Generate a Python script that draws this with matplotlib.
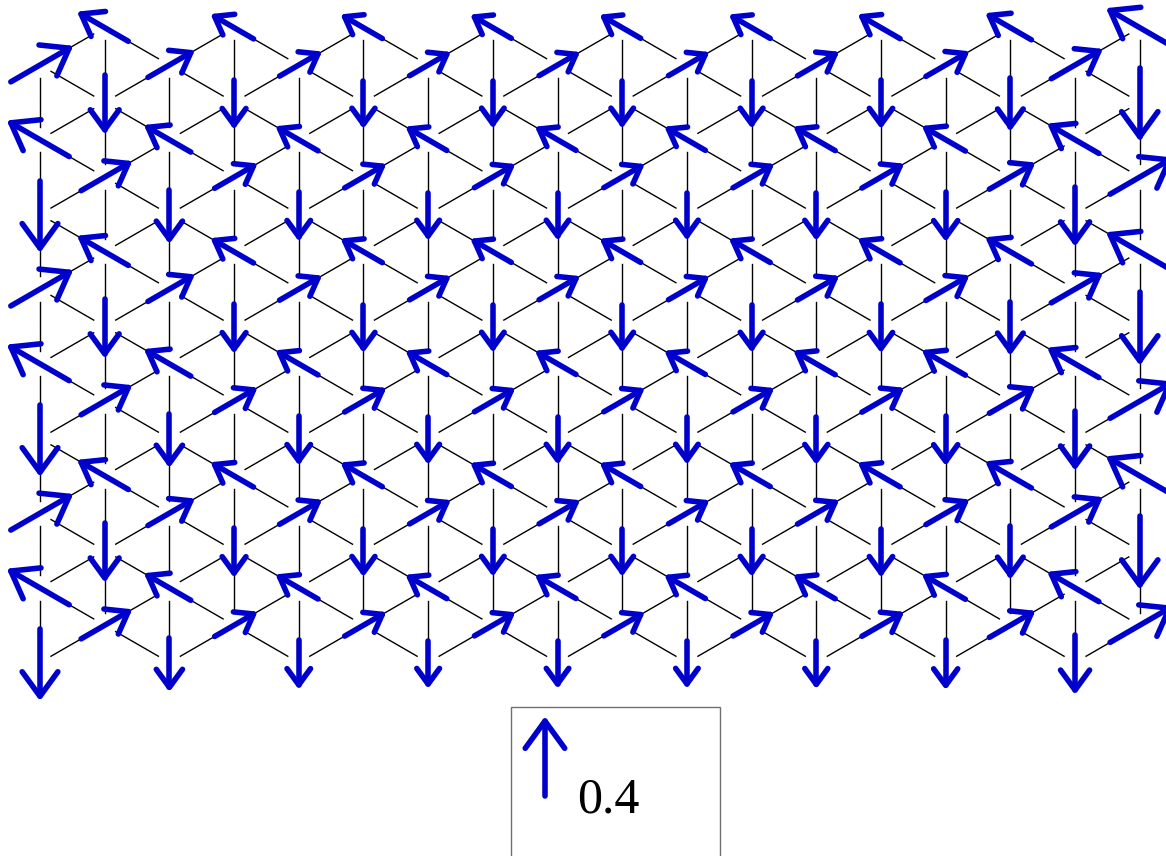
import numpy as np
import matplotlib.pyplot as plt
from matplotlib.patches import Rectangle

# triangular cluster: 18 columns of 9 sites, open at every edge
n_cols = 18
n_rows = 9
# ordered moment on each column (larger at the open ends)
moment = [0.361, 0.292, 0.265, 0.241, 0.238, 0.233, 0.230, 0.228, 0.228,
          0.228, 0.228, 0.230, 0.233, 0.236, 0.244, 0.260, 0.294, 0.367]
# spin angle (deg) on the three sublattices of the 120 degree state
sub_angle = [30, 150, 270]
ref_moment = 0.4
ref_label = "0.4"

arrow_scale = 2.5   # lattice units per unit moment
gap = 0.17          # bonds stop short of the sites
blue = "#0000cc"

fig = plt.figure(figsize=(11.66, 8.56), dpi=100)
ax = fig.add_axes([0, 0, 1, 1])
ax.set_xlim(-0.5355, 15.0736)
ax.set_ylim(10.589, -0.8701)
ax.set_aspect("equal")
ax.axis("off")


def site(i, j):
    return np.array([i * np.sqrt(3) / 2, j - 0.5 * (i % 2)])


# nearest-neighbour bonds
bonds = []
for i in range(n_cols):
    for j in range(n_rows):
        if j + 1 < n_rows:
            bonds.append(((i, j), (i, j + 1)))
        if i + 1 < n_cols:
            nb = (j, j + 1) if i % 2 == 0 else (j - 1, j)
            for jj in nb:
                if 0 <= jj < n_rows:
                    bonds.append(((i, j), (i + 1, jj)))

for a, b in bonds:
    p, q = site(*a), site(*b)
    u = (q - p) / np.linalg.norm(q - p)
    s, e = p + gap * u, q - gap * u
    ax.plot([s[0], e[0]], [s[1], e[1]], color="black", lw=1.0, zorder=1)


def spin_arrow(tail, ang, m):
    d = np.array([np.cos(np.radians(ang)), -np.sin(np.radians(ang))])
    L = m * arrow_scale
    tip = tail + d * L
    hl = 0.45 * L
    barbs = []
    for sgn in (1, -1):
        t = np.radians(sgn * 36)
        r = np.array([[np.cos(t), -np.sin(t)], [np.sin(t), np.cos(t)]])
        barbs.append(tip - hl * (r @ d))
    kw = dict(color=blue, lw=4.0, solid_capstyle="round",
              solid_joinstyle="round", zorder=3)
    ax.plot([tail[0], tip[0]], [tail[1], tip[1]], **kw)
    ax.plot([barbs[0][0], tip[0], barbs[1][0]],
            [barbs[0][1], tip[1], barbs[1][1]], **kw)


for i in range(n_cols):
    for j in range(n_rows):
        ang = sub_angle[(j + i % 2) % 3]
        d = np.array([np.cos(np.radians(ang)), -np.sin(np.radians(ang))])
        L = moment[i] * arrow_scale
        spin_arrow(site(i, j) - d * L / 2, ang, moment[i])

# scale box
ax.add_patch(Rectangle((6.305, 8.594), 2.798, 3.0, fill=False,
                       edgecolor="#707070", lw=1.0, zorder=2, clip_on=True))
spin_arrow(np.array([6.760, 9.783]), 90, ref_moment)
ax.text(7.189, 10.013, ref_label, fontsize=36, family="Liberation Serif",
        ha="left", va="baseline")

fig.savefig("out.png", dpi=100)
